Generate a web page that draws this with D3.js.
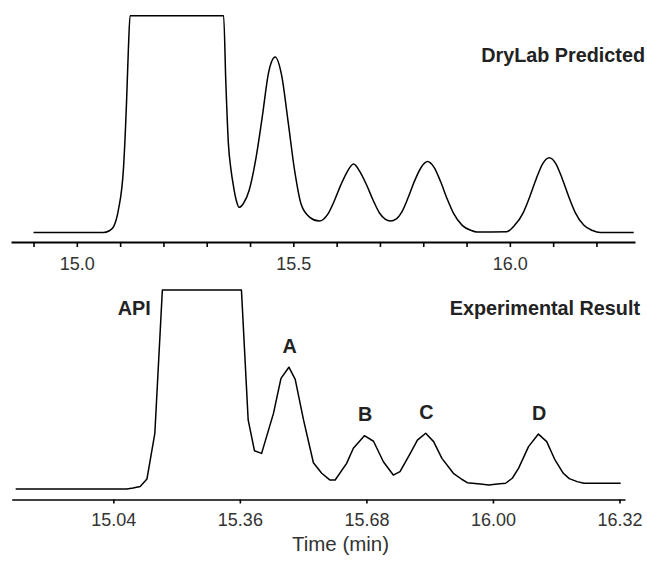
<!DOCTYPE html>
<html>
<head>
<meta charset="utf-8">
<script src="https://cdn.jsdelivr.net/npm/d3@7"></script>
<style>
  html, body { margin: 0; padding: 0; background: #fff; }
  svg { display: block; font-family: "Liberation Sans", Arial, sans-serif; }
  .axis text { font-size: 18px; fill: #333; }
  .axis path, .axis line { stroke: #000; }
  .trace { fill: none; stroke: #000; stroke-width: 1.5px; stroke-linejoin: round; }
  .panel-title, .peak-label { font-weight: bold; font-size: 19.8px; fill: #222; }
</style>
</head>
<body>
<div id="chart"></div>
<script>
// DryLab predicted trace (time in min, signal in % of clipped full scale)
var predTime = [14.900, 15.061, 15.075, 15.085, 15.096, 15.108, 15.115, 15.119, 15.123,
  15.339, 15.344, 15.350, 15.356, 15.362, 15.368, 15.375, 15.385, 15.398, 15.413, 15.428,
  15.443, 15.458, 15.473, 15.488, 15.503, 15.518, 15.538, 15.560, 15.580, 15.594, 15.609,
  15.624, 15.639, 15.654, 15.669, 15.684, 15.699, 15.712, 15.724, 15.738, 15.750, 15.765,
  15.780, 15.795, 15.810, 15.825, 15.840, 15.855, 15.870, 15.890, 15.910, 15.924, 15.993,
  16.011, 16.031, 16.046, 16.061, 16.076, 16.091, 16.106, 16.121, 16.136, 16.151, 16.171,
  16.191, 16.209, 16.286];
var predSignal = [0, 0, 0.8, 2.7, 10.4, 30.4, 61.1, 84.2, 100,
  100, 70, 41.1, 29, 21.1, 15, 11.6, 13.5, 19.5, 33.5, 53,
  74, 81, 72.5, 51, 28.5, 13, 7, 5.3, 8.6, 14.3, 21.6,
  27.9, 31.6, 28, 22, 15, 9, 6.2, 5.3, 6.3, 9.3, 16,
  23.8, 30, 32.7, 30, 23.5, 15.6, 8.8, 3.3, 1, 0.2, 0.4,
  3.3, 9.2, 16.5, 24.8, 31.8, 34.5, 31.8, 24.8, 16.5, 9.2, 3.3,
  0.9, 0, 0];

// experimental trace
var expTime = [14.793, 15.074, 15.090, 15.108, 15.125, 15.145, 15.164, 15.364, 15.381,
  15.397, 15.415, 15.445, 15.464, 15.484, 15.500, 15.521, 15.546, 15.567, 15.588, 15.601,
  15.630, 15.647, 15.675, 15.698, 15.723, 15.748, 15.765, 15.791, 15.809, 15.830, 15.850,
  15.871, 15.900, 15.921, 15.935, 15.968, 15.990, 16.011, 16.032, 16.049, 16.065, 16.090,
  16.115, 16.136, 16.157, 16.178, 16.193, 16.213, 16.230, 16.323];
var expSignal = [0, 0, 0.5, 1.3, 5, 28, 100, 100, 34.7,
  19.2, 17.9, 38, 55.6, 61.2, 55.1, 34.7, 13.2, 7.9, 4.5, 4.5,
  12.9, 20.5, 26.8, 24, 13.7, 7.0, 8.7, 17.9, 24.6, 28.0, 23.8,
  15.4, 7.9, 4.9, 3.2, 2.5, 2.0, 2.5, 2.9, 5.4, 10.5, 21.3,
  27.6, 23.8, 14.6, 7.9, 5.2, 3.7, 2.9, 2.9];

var predTicks = [14.9, 15.0, 15.1, 15.2, 15.3, 15.4, 15.5, 15.6, 15.7, 15.8, 15.9, 16.0, 16.1, 16.2];
var predTickLabels = [15.0, 15.5, 16.0];
var expTicks = [15.04, 15.36, 15.68, 16.00, 16.32];

var peakNames = ["A", "B", "C", "D"];
var peakTimes = [15.484, 15.675, 15.830, 16.115];

var width = 647, height = 562;

var svg = d3.select("#chart").append("svg")
    .attr("width", width)
    .attr("height", height);

// ---- top panel: DryLab prediction ----
var xTop = d3.scaleLinear().domain([14.848, 16.289]).range([11, 635]);
var yTop = d3.scaleLinear().domain([0, 100]).range([232.5, 15.7]);

var topAxis = svg.append("g")
    .attr("class", "axis")
    .attr("transform", "translate(0,242)")
    .call(d3.axisBottom(xTop)
        .tickValues(predTicks)
        .tickSize(5)
        .tickSizeOuter(0)
        .tickPadding(10)
        .tickFormat(function(d) {
            return predTickLabels.some(function(v) { return Math.abs(v - d) < 1e-6; })
                ? d3.format(".1f")(d) : "";
        }));
topAxis.select(".domain").attr("stroke-width", 2);
topAxis.selectAll(".tick line").attr("stroke-width", 1.6);

var lineTop = d3.line()
    .x(function(d) { return xTop(d[0]); })
    .y(function(d) { return yTop(d[1]); })
    .curve(d3.curveMonotoneX);

svg.append("path")
    .datum(d3.zip(predTime, predSignal))
    .attr("class", "trace")
    .attr("d", lineTop);

svg.append("text")
    .attr("class", "panel-title")
    .attr("x", 645).attr("y", 62)
    .attr("text-anchor", "end")
    .text("DryLab Predicted");

// ---- bottom panel: experimental ----
var xBot = d3.scaleLinear().domain([14.783, 16.334]).range([11.7, 625]);
var yBot = d3.scaleLinear().domain([0, 100]).range([489, 290]);

var botAxis = svg.append("g")
    .attr("class", "axis")
    .attr("transform", "translate(0,499.5)")
    .call(d3.axisBottom(xBot)
        .tickValues(expTicks)
        .tickSize(4)
        .tickSizeOuter(0)
        .tickPadding(10)
        .tickFormat(d3.format(".2f")));
botAxis.select(".domain").attr("stroke-width", 1.6);
botAxis.selectAll(".tick line").attr("stroke-width", 1.6);

var lineBot = d3.line()
    .x(function(d) { return xBot(d[0]); })
    .y(function(d) { return yBot(d[1]); });

svg.append("path")
    .datum(d3.zip(expTime, expSignal))
    .attr("class", "trace")
    .attr("d", lineBot);

svg.append("text")
    .attr("class", "panel-title")
    .attr("x", 640).attr("y", 315)
    .attr("text-anchor", "end")
    .text("Experimental Result");

svg.append("text")
    .attr("class", "peak-label")
    .attr("x", 150.7).attr("y", 315)
    .attr("text-anchor", "end")
    .text("API");

// peak letters sit just above each peak apex
var peakSignal = peakTimes.map(function(t) {
    return expSignal[expTime.indexOf(t)];
});
svg.selectAll(".peak-name")
    .data(peakNames).enter()
    .append("text")
        .attr("class", "peak-label peak-name")
        .attr("text-anchor", "middle")
        .attr("x", function(d, i) { return xBot(peakTimes[i]) + 0.8; })
        .attr("y", function(d, i) { return yBot(peakSignal[i]) - 14.5; })
        .text(function(d) { return d; });

svg.append("text")
    .attr("x", 340.5).attr("y", 550.5)
    .attr("text-anchor", "middle")
    .style("font-size", "20.5px")
    .style("fill", "#333")
    .text("Time (min)");
</script>
</body>
</html>
